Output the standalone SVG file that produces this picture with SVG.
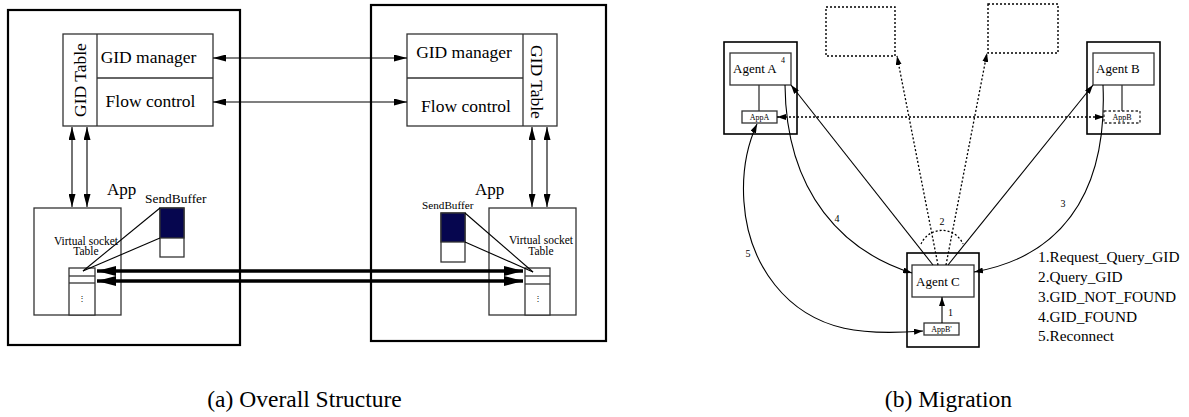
<svg xmlns="http://www.w3.org/2000/svg" width="1189" height="417" viewBox="0 0 1189 417">
<style>
.outer{fill:none;stroke:#000;stroke-width:2.2}
.box{fill:#fff;stroke:#333;stroke-width:1.3}
.thin{fill:none;stroke:#000;stroke-width:1.1}
.dot{fill:none;stroke:#000;stroke-width:1.3;stroke-dasharray:2 2}
.dbox{fill:none;stroke:#000;stroke-width:1.4;stroke-dasharray:2 2}
.thick{fill:none;stroke:#000;stroke-width:3.5}
</style>
<defs>
<marker id="ah" markerUnits="userSpaceOnUse" markerWidth="13" markerHeight="7" refX="13" refY="3.5" orient="auto-start-reverse"><path d="M0,0 L13,3.5 L0,7 z" fill="#000"/></marker>
<marker id="big" markerUnits="userSpaceOnUse" markerWidth="19" markerHeight="10" refX="19" refY="5" orient="auto-start-reverse"><path d="M0,0 L19,5 L0,10 z" fill="#000"/></marker>
<marker id="sm" markerUnits="userSpaceOnUse" markerWidth="9" markerHeight="6" refX="9" refY="3" orient="auto-start-reverse"><path d="M0,0 L9,3 L0,6 z" fill="#000"/></marker>
</defs>

<!-- (a) Overall Structure -->
<g id="hostA"><rect class="outer" x="8" y="10" width="232" height="335"/></g>
<g id="hostB"><rect class="outer" x="371" y="5" width="235" height="336"/></g>

<g id="gidA">
<rect class="box" x="63" y="34" width="150" height="92"/>
<line class="box" x1="97" y1="34" x2="97" y2="126"/>
<line class="box" x1="97" y1="78" x2="213" y2="78"/>
<text x="148.5" y="63" font-family="Liberation Serif" font-size="17.5" text-anchor="middle">GID manager</text>
<text x="150.5" y="107" font-family="Liberation Serif" font-size="17.5" text-anchor="middle">Flow control</text>
<text transform="translate(86,80) rotate(-90)" font-family="Liberation Serif" font-size="17.5" text-anchor="middle">GID Table</text>
</g>

<g id="gidB">
<rect class="box" x="407" y="34" width="150" height="92"/>
<line class="box" x1="523" y1="34" x2="523" y2="126"/>
<line class="box" x1="407" y1="78" x2="523" y2="78"/>
<text x="464" y="58" font-family="Liberation Serif" font-size="17.5" text-anchor="middle">GID manager</text>
<text x="466" y="112" font-family="Liberation Serif" font-size="17.5" text-anchor="middle">Flow control</text>
<text transform="translate(531,82) rotate(90)" font-family="Liberation Serif" font-size="17.5" text-anchor="middle">GID Table</text>
</g>

<g id="appA">
<text x="107" y="195" font-family="Liberation Serif" font-size="17">App</text>
<rect class="box" x="34" y="208" width="87" height="107"/>
<text x="86" y="245" font-family="Liberation Serif" font-size="11.5" text-anchor="middle">Virtual socket</text>
<text x="86" y="255" font-family="Liberation Serif" font-size="11.5" text-anchor="middle">Table</text>
<rect class="box" x="69" y="268" width="26" height="47"/>
<line class="box" x1="69" y1="276" x2="95" y2="276"/>
<line class="box" x1="69" y1="283" x2="95" y2="283"/>
<text x="82" y="301" font-family="Liberation Serif" font-size="8" text-anchor="middle">⋮</text>
</g>

<g id="sendBufferA">
<text x="145" y="203" font-family="Liberation Serif" font-size="13.4">SendBuffer</text>
<rect class="box" x="160" y="208" width="24" height="49"/>
<rect x="160" y="208" width="24" height="30" fill="#06064f" stroke="#333" stroke-width="1.3"/>
<line class="thin" x1="160" y1="208" x2="83" y2="271"/>
<line class="thin" x1="160" y1="238" x2="83" y2="271"/>
</g>

<g id="appB">
<text x="475" y="195" font-family="Liberation Serif" font-size="17">App</text>
<rect class="box" x="489" y="208" width="87" height="107"/>
<text x="541" y="244" font-family="Liberation Serif" font-size="11.5" text-anchor="middle">Virtual socket</text>
<text x="541" y="255" font-family="Liberation Serif" font-size="11.5" text-anchor="middle">Table</text>
<rect class="box" x="525" y="268" width="25" height="47"/>
<line class="box" x1="525" y1="276" x2="550" y2="276"/>
<line class="box" x1="525" y1="284" x2="550" y2="284"/>
<text x="537.5" y="301" font-family="Liberation Serif" font-size="8" text-anchor="middle">⋮</text>
</g>

<g id="sendBufferB">
<text x="422" y="209" font-family="Liberation Serif" font-size="11.2">SendBuffer</text>
<rect class="box" x="441" y="213" width="24" height="49"/>
<rect x="441" y="213" width="24" height="29" fill="#06064f" stroke="#333" stroke-width="1.3"/>
<line class="thin" x1="465" y1="213" x2="533" y2="272"/>
<line class="thin" x1="465" y1="242" x2="533" y2="272"/>
</g>

<g id="connectors-a">
<line class="thin" x1="213" y1="58" x2="407" y2="58" marker-start="url(#ah)" marker-end="url(#ah)"/>
<line class="thin" x1="213" y1="102" x2="407" y2="102" marker-start="url(#ah)" marker-end="url(#ah)"/>
<line class="thin" x1="72" y1="127" x2="72" y2="207" marker-start="url(#ah)" marker-end="url(#ah)"/>
<line class="thin" x1="87" y1="127" x2="87" y2="207" marker-start="url(#ah)" marker-end="url(#ah)"/>
<line class="thin" x1="532" y1="127" x2="532" y2="207" marker-start="url(#ah)" marker-end="url(#ah)"/>
<line class="thin" x1="547" y1="127" x2="547" y2="207" marker-start="url(#ah)" marker-end="url(#ah)"/>
<line class="thick" x1="97" y1="271" x2="523" y2="271" marker-start="url(#big)" marker-end="url(#big)"/>
<line class="thick" x1="97" y1="281" x2="523" y2="281" marker-start="url(#big)" marker-end="url(#big)"/>
</g>

<text x="304.5" y="407" font-family="Liberation Serif" font-size="23.5" text-anchor="middle">(a) Overall Structure</text>

<!-- (b) Migration -->
<g id="agentA">
<rect class="outer" x="724" y="42" width="73" height="92" style="stroke-width:1.6"/>
<rect class="box" x="730" y="53" width="61" height="32"/>
<text x="733" y="73" font-family="Liberation Serif" font-size="13">Agent A</text>
<text x="781" y="63" font-family="Liberation Serif" font-size="8">4</text>
<line class="box" x1="759" y1="85" x2="759" y2="111"/>
<rect class="box" x="742" y="111" width="35" height="12"/>
<text x="759.5" y="120" font-family="Liberation Serif" font-size="8" text-anchor="middle">AppA</text>
</g>

<g id="agentB">
<rect class="outer" x="1087" y="42" width="73" height="92" style="stroke-width:1.6"/>
<rect class="box" x="1093" y="53" width="61" height="32"/>
<text x="1096" y="73" font-family="Liberation Serif" font-size="13">Agent B</text>
<line class="box" x1="1122" y1="85" x2="1122" y2="111"/>
<rect x="1104" y="111" width="36" height="12" fill="#fff" stroke="#333" stroke-width="1.3" stroke-dasharray="2.5 2"/>
<text x="1122" y="120" font-family="Liberation Serif" font-size="8" text-anchor="middle">AppB</text>
</g>

<g id="agentC">
<rect class="outer" x="907" y="253" width="72" height="94" style="stroke-width:1.6"/>
<rect class="box" x="912" y="265" width="62" height="32"/>
<text x="916" y="286" font-family="Liberation Serif" font-size="13">Agent C</text>
<rect class="box" x="924" y="323" width="35" height="12"/>
<text x="941.5" y="332" font-family="Liberation Serif" font-size="8" text-anchor="middle">AppB'</text>
</g>

<g id="ghost1"><rect class="dbox" x="826" y="7" width="69" height="49"/></g>
<g id="ghost2"><rect class="dbox" x="988" y="4" width="70" height="49"/></g>

<g id="connectors-b">
<line class="dot" x1="777" y1="117" x2="1104" y2="117" marker-start="url(#sm)" marker-end="url(#sm)"/>
<line class="dot" x1="938" y1="265" x2="897" y2="56" marker-end="url(#sm)"/>
<line class="dot" x1="946" y1="265" x2="987" y2="53" marker-end="url(#sm)"/>
<path class="dot" d="M921 244 A23 23 0 0 1 963 244"/>
<text x="942" y="225" font-family="Liberation Serif" font-size="10" text-anchor="middle">2</text>
<line class="thin" x1="933" y1="265" x2="791" y2="85" marker-end="url(#sm)"/>
<line class="thin" x1="948" y1="265" x2="1093" y2="85" marker-end="url(#sm)"/>
<line class="thin" x1="942" y1="323" x2="942" y2="297" marker-end="url(#sm)"/>
<text x="948" y="316" font-family="Liberation Serif" font-size="10">1</text>
<path class="thin" d="M1103 85 C1108 200 1055 258 974 272" marker-end="url(#sm)"/>
<text x="1063" y="207" font-family="Liberation Serif" font-size="10" text-anchor="middle">3</text>
<path class="thin" d="M785 85 C786 195 845 252 912 273" marker-end="url(#sm)"/>
<text x="837" y="222" font-family="Liberation Serif" font-size="10" text-anchor="middle">4</text>
<path class="thin" d="M757 124 C738 165 735 235 775 285 S870 335 923 331" marker-start="url(#sm)" marker-end="url(#sm)"/>
<text x="748" y="257" font-family="Liberation Serif" font-size="10" text-anchor="middle">5</text>
</g>

<g id="legend">
<text x="1038" y="262" font-family="Liberation Serif" font-size="15.3">1.Request_Query_GID</text>
<text x="1038" y="281.5" font-family="Liberation Serif" font-size="15.3">2.Query_GID</text>
<text x="1038" y="301.5" font-family="Liberation Serif" font-size="15.3">3.GID_NOT_FOUND</text>
<text x="1038" y="321.5" font-family="Liberation Serif" font-size="15.3">4.GID_FOUND</text>
<text x="1038" y="340.5" font-family="Liberation Serif" font-size="15.3">5.Reconnect</text>
</g>

<text x="948.5" y="407" font-family="Liberation Serif" font-size="23.5" text-anchor="middle">(b) Migration</text>
</svg>
